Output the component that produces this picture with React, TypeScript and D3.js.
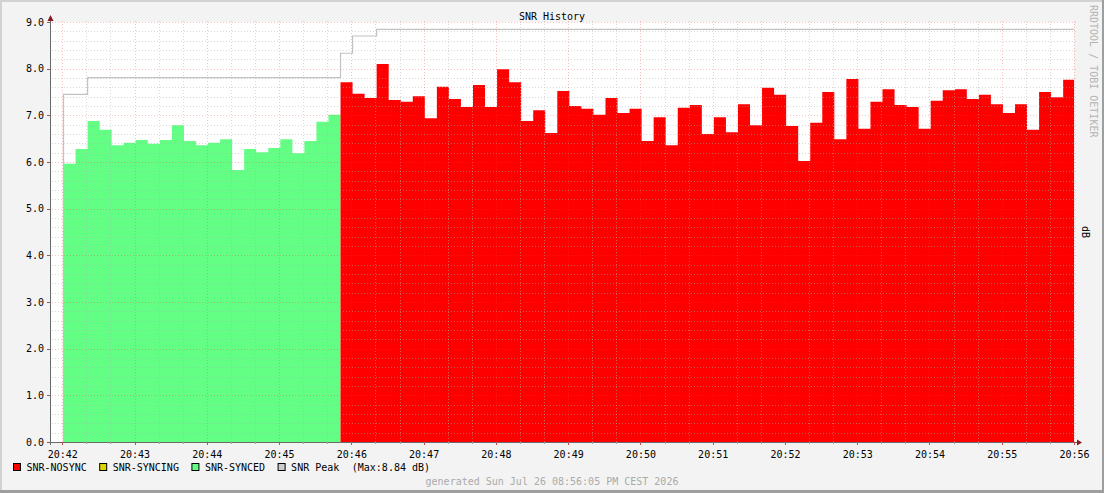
import { useRef, useEffect } from 'react';
import * as d3 from 'd3';

const title = "SNR History";
const unit_label = "dB";
const watermark = "RRDTOOL / TOBI OETIKER";
const footer = "generated Sun Jul 26 08:56:05 PM CEST 2026";

// samples every 10 s, the first one at 20:42:01
const sample_start = Date.UTC(2026, 6, 26, 20, 42, 1);
const sample_step = 10;

const snr_synced = [5.96, 6.28, 6.88, 6.69, 6.36, 6.41, 6.47, 6.39, 6.47, 6.79, 6.45, 6.36, 6.41, 6.49, 5.83, 6.28, 6.21, 6.30, 6.49, 6.19, 6.45, 6.86, 7.01];
const snr_nosync = [7.71, 7.46, 7.37, 8.10, 7.33, 7.29, 7.41, 6.94, 7.61, 7.35, 7.18, 7.65, 7.18, 7.99, 7.71, 6.88, 7.11, 6.62, 7.52, 7.20, 7.14, 7.01, 7.37, 7.05, 7.14, 6.45, 6.96, 6.36, 7.16, 7.22, 6.60, 6.96, 6.64, 7.24, 6.79, 7.59, 7.44, 6.77, 6.02, 6.84, 7.50, 6.49, 7.78, 6.71, 7.29, 7.56, 7.22, 7.18, 6.71, 7.31, 7.54, 7.56, 7.35, 7.44, 7.24, 7.05, 7.24, 6.69, 7.50, 7.39, 7.76];

// peak value and the sample index where it starts
const peak_from = [0, 2, 23, 24, 26];
const peak_values = [7.45, 7.81, 8.33, 8.70, 8.84];

const legend_labels = ["SNR-NOSYNC", "SNR-SYNCING", "SNR-SYNCED", "SNR Peak"];
const legend_colors = ["#ff0000", "#dcd400", "#62ff84", "#cccccc"];

const y_ticks = [0, 1, 2, 3, 4, 5, 6, 7, 8, 9];

export default function App() {
    const ref = useRef(null);

    useEffect(() => {
        const svg_width = 1104;
        const svg_height = 493;
        const font = "DejaVu Sans Mono";
        const left = 51, right = 1074, top = 22, bottom = 442;

        const svg = d3.select(ref.current)
            .append("svg")
                .attr("width", svg_width)
                .attr("height", svg_height)
                .style("position", "absolute")
                .style("left", "0px")
                .style("top", "0px");

        svg.append("rect")
            .attr("width", svg_width)
            .attr("height", svg_height)
            .attr("fill", "#f3f3f3");
        // 3d frame
        svg.append("rect").attr("x", 0).attr("y", 0).attr("width", svg_width).attr("height", 2).attr("fill", "#d2d2d2");
        svg.append("rect").attr("x", 0).attr("y", 0).attr("width", 2).attr("height", svg_height).attr("fill", "#d2d2d2");
        svg.append("rect").attr("x", svg_width - 2).attr("y", 0).attr("width", 2).attr("height", svg_height).attr("fill", "#9e9e9e");
        svg.append("rect").attr("x", 0).attr("y", svg_height - 3).attr("width", svg_width).attr("height", 3).attr("fill", "#9e9e9e");

        const t0 = new Date(Date.UTC(2026, 6, 26, 20, 42, 0));
        const t_end = new Date(Date.UTC(2026, 6, 26, 20, 56, 0));
        const px_per_sec = (right - 62.3) / (14 * 60);
        const t_start = new Date(t0.getTime() - (62.3 - left) / px_per_sec * 1000);

        const x = d3.scaleUtc()
            .domain([t_start, t_end])
            .range([left, right]);

        const y = d3.scaleLinear()
            .domain([0, 9])
            .range([bottom, top]);

        svg.append("rect")
            .attr("x", left).attr("y", top)
            .attr("width", right - left).attr("height", bottom - top)
            .attr("fill", "white");

        svg.append("clipPath").attr("id", "plot-clip")
            .append("rect")
                .attr("x", left).attr("y", top)
                .attr("width", right - left).attr("height", bottom - top);

        const time_of = (i: number) => new Date(sample_start + i * sample_step * 1000);
        const to_points = (values: number[], offset: number) => {
            const pts = values.map((v, i) => ({ t: time_of(offset + i), v }));
            pts.push({ t: time_of(offset + values.length), v: values[values.length - 1] });
            return pts;
        };

        const area = d3.area<{ t: Date, v: number }>()
            .x((d) => x(d.t))
            .y0(y(0))
            .y1((d) => y(d.v))
            .curve(d3.curveStepAfter);

        const plot = svg.append("g").attr("clip-path", "url(#plot-clip)");

        plot.append("path")
            .datum(to_points(snr_synced, 0))
            .attr("d", area)
            .attr("fill", legend_colors[2]);

        plot.append("path")
            .datum(to_points(snr_nosync, snr_synced.length))
            .attr("d", area)
            .attr("fill", legend_colors[0]);

        const total = snr_synced.length + snr_nosync.length;
        const peak_points: { t: Date, v: number }[] = [{ t: time_of(0), v: 0 }];
        peak_from.forEach((from, i) => {
            peak_points.push({ t: time_of(from), v: peak_values[i] });
        });
        peak_points.push({ t: time_of(total), v: peak_values[peak_values.length - 1] });

        plot.append("path")
            .datum(peak_points)
            .attr("d", d3.line<{ t: Date, v: number }>()
                .x((d) => x(d.t))
                .y((d) => y(d.v))
                .curve(d3.curveStepAfter))
            .attr("fill", "none")
            .attr("stroke", "#c2c2c2")
            .attr("stroke-width", 1.2);

        // grid
        const grid = svg.append("g").attr("shape-rendering", "crispEdges");
        const minor_y = d3.range(0, 9.001, 0.2).filter((v) => Math.abs(v - Math.round(v)) > 0.01);
        const major_x = d3.utcMinute.range(t0, new Date(t_end.getTime() + 1000));
        const minor_x = d3.utcSecond.every(20)!.range(t0, t_end).filter((d) => d.getUTCSeconds() !== 0);
        const minor_color = "rgba(175,175,175,0.48)";
        const major_color = "rgba(255,60,60,0.32)";

        grid.selectAll(".minor-y")
            .data(minor_y)
            .enter()
            .append("line")
                .attr("x1", left + 1).attr("x2", right + 3)
                .attr("y1", (d) => Math.round(y(d)) + 0.5)
                .attr("y2", (d) => Math.round(y(d)) + 0.5)
                .attr("stroke", minor_color)
                .attr("stroke-dasharray", "1,2");
        grid.selectAll(".minor-x")
            .data(minor_x)
            .enter()
            .append("line")
                .attr("x1", (d) => Math.round(x(d)) + 0.5)
                .attr("x2", (d) => Math.round(x(d)) + 0.5)
                .attr("y1", bottom).attr("y2", top - 2)
                .attr("stroke", minor_color)
                .attr("stroke-dasharray", "1,2");
        grid.selectAll(".major-y")
            .data(y_ticks.filter((v) => v > 0))
            .enter()
            .append("line")
                .attr("x1", left + 1).attr("x2", right + 3)
                .attr("y1", (d) => Math.round(y(d)) + 0.5)
                .attr("y2", (d) => Math.round(y(d)) + 0.5)
                .attr("stroke", major_color)
                .attr("stroke-dasharray", "1,2");
        grid.selectAll(".major-x")
            .data(major_x)
            .enter()
            .append("line")
                .attr("x1", (d) => Math.round(x(d)) + 0.5)
                .attr("x2", (d) => Math.round(x(d)) + 0.5)
                .attr("y1", bottom).attr("y2", top - 2)
                .attr("stroke", major_color)
                .attr("stroke-dasharray", "1,2");

        // axes
        const axis_color = "#6a6a6a";
        const arrow_color = "#8b1a1a";
        const axes = svg.append("g").attr("shape-rendering", "crispEdges");
        axes.append("line")
            .attr("x1", left - 0.5).attr("x2", left - 0.5)
            .attr("y1", bottom + 3).attr("y2", top - 3)
            .attr("stroke", axis_color);
        axes.append("line")
            .attr("x1", left - 4).attr("x2", right + 3)
            .attr("y1", bottom + 0.5).attr("y2", bottom + 0.5)
            .attr("stroke", axis_color);
        axes.selectAll(".ytick")
            .data(y_ticks)
            .enter()
            .append("line")
                .attr("x1", left - 4).attr("x2", left)
                .attr("y1", (d) => Math.round(y(d)) + 0.5)
                .attr("y2", (d) => Math.round(y(d)) + 0.5)
                .attr("stroke", axis_color);
        axes.selectAll(".xtick")
            .data(major_x)
            .enter()
            .append("line")
                .attr("x1", (d) => Math.round(x(d)) + 0.5)
                .attr("x2", (d) => Math.round(x(d)) + 0.5)
                .attr("y1", bottom).attr("y2", bottom + 3)
                .attr("stroke", "#c05050");
        axes.selectAll(".xminor")
            .data(minor_x)
            .enter()
            .append("line")
                .attr("x1", (d) => Math.round(x(d)) + 0.5)
                .attr("x2", (d) => Math.round(x(d)) + 0.5)
                .attr("y1", bottom).attr("y2", bottom + 2)
                .attr("stroke", "#a0a0a0");

        svg.append("path")
            .attr("d", `M${left - 3.5},${top - 1} L${left + 2.5},${top - 1} L${left - 0.5},${top - 7} Z`)
            .attr("fill", arrow_color);
        svg.append("path")
            .attr("d", `M${right + 3},${bottom - 2.5} L${right + 3},${bottom + 3.5} L${right + 8},${bottom + 0.5} Z`)
            .attr("fill", arrow_color);

        // labels
        const text = svg.append("g")
            .style("font-family", font)
            .style("font-size", "10px");

        text.selectAll(".ylabel")
            .data(y_ticks)
            .enter()
            .append("text")
                .attr("x", left - 7)
                .attr("y", (d) => y(d) + 3.5)
                .attr("text-anchor", "end")
                .attr("fill", "#000")
                .text((d) => d3.format(".1f")(d));

        text.selectAll(".xlabel")
            .data(major_x)
            .enter()
            .append("text")
                .attr("x", (d) => x(d) + 0.5)
                .attr("y", 458)
                .attr("text-anchor", "middle")
                .attr("fill", "#000")
                .text((d) => d3.utcFormat("%H:%M")(d));

        text.append("text")
            .attr("x", 552).attr("y", 19.5)
            .attr("text-anchor", "middle")
            .attr("fill", "#000")
            .text(title);

        text.append("text")
            .attr("transform", "translate(1081.5, 232) rotate(90)")
            .attr("text-anchor", "middle")
            .attr("fill", "#000")
            .text(unit_label);

        text.append("text")
            .attr("transform", "translate(1089.5, 5) rotate(90)")
            .attr("fill", "#b4b4b4")
            .text(watermark);

        text.append("text")
            .attr("x", 552).attr("y", 484.5)
            .attr("text-anchor", "middle")
            .attr("fill", "#aaaaaa")
            .text(footer);

        // legend
        const char_w = 6.02;
        let lx = 13.5;
        legend_labels.forEach((label, i) => {
            svg.append("rect")
                .attr("x", lx).attr("y", 463.5)
                .attr("width", 7).attr("height", 7)
                .attr("fill", legend_colors[i])
                .attr("stroke", "#000")
                .attr("stroke-width", 1);
            text.append("text")
                .attr("x", lx + 13).attr("y", 470.5)
                .attr("fill", "#000")
                .text(label);
            lx = lx + 13 + label.length * char_w + 13;
        });
        text.append("text")
            .attr("x", lx - 0.5).attr("y", 470.5)
            .attr("fill", "#000")
            .text(`(Max:${d3.format(".2f")(d3.max(peak_values)!)} ${unit_label})`);

        return () => {
            d3.select(ref.current).selectAll("*").remove();
        };
    }, [ref]);

    return (
        <div ref={ref} />
    );
}
